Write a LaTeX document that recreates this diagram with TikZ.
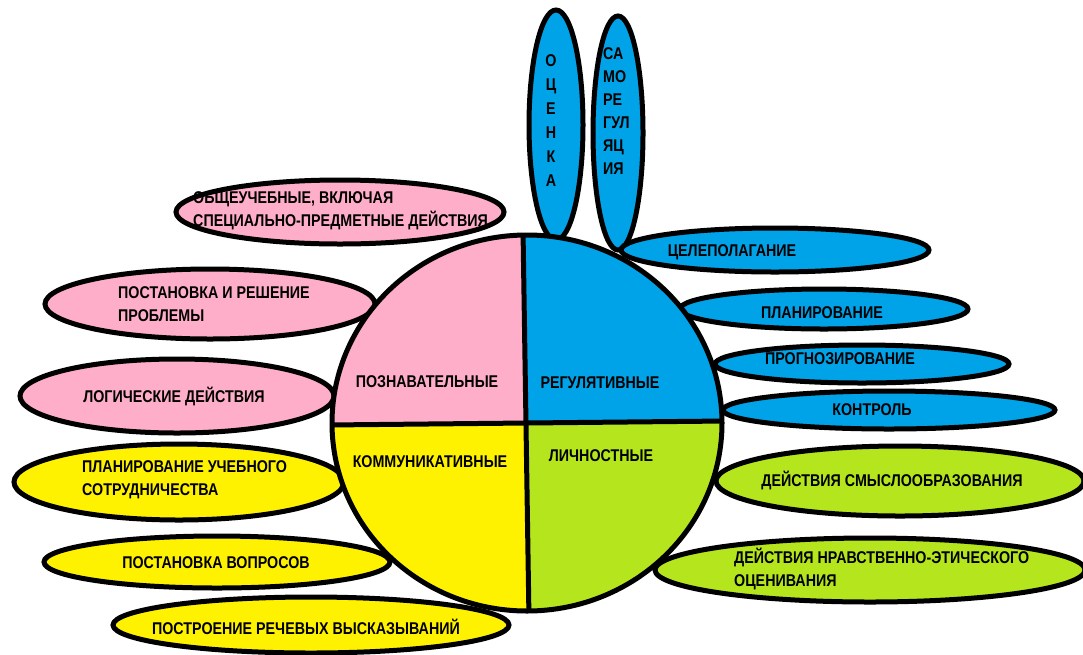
\documentclass[tikz,border=0pt]{standalone}
\usepackage{fontspec}
\setmainfont{Liberation Sans}
\newfontfamily\lblfont[FakeStretch=0.84]{Liberation Sans Bold}
\usetikzlibrary{shapes.geometric}
\definecolor{cpink}{RGB}{255,174,201}
\definecolor{cblue}{RGB}{0,162,232}
\definecolor{cyel}{RGB}{255,242,0}
\definecolor{cgreen}{RGB}{181,230,29}
\tikzset{
  oval/.style={draw=black, line width=5pt},
  lbl/.style={font=\lblfont\fontsize{17}{23}\selectfont, inner sep=0pt, text=black},
  lbll/.style={lbl, align=left, anchor=west},
}
\begin{document}
\begin{tikzpicture}[x=1pt,y=-1pt]
\useasboundingbox (0,0) rectangle (1083,654);
% top vertical ellipses
\draw[oval, fill=cblue] (556,125) ellipse (27 and 115);
\draw[oval, fill=cblue] (618,133) ellipse (25 and 117);
% left ellipses
\draw[oval, fill=cpink] (340,212) ellipse (164 and 32);
\draw[oval, fill=cpink] (210,304) ellipse (165 and 35);
\draw[oval, fill=cpink] (177,396) ellipse (157 and 37);
\draw[oval, fill=cyel] (179,482) ellipse (165 and 38);
\draw[oval, fill=cyel] (217,562) ellipse (173 and 26);
\draw[oval, fill=cyel] (311,625) ellipse (198 and 28);
% right ellipses
\draw[oval, fill=cblue] (775,250) ellipse (154 and 22);
\draw[oval, fill=cblue] (824,309) ellipse (144 and 20);
\draw[oval, fill=cblue] (862,364) ellipse (147 and 19);
\draw[oval, fill=cblue] (889,410) ellipse (166 and 19);
\draw[oval, fill=cgreen] (900,481) ellipse (184 and 35);
\draw[oval, fill=cgreen] (870,570) ellipse (215 and 32);
% main circle
\begin{scope}
  \clip (527,423) ellipse (195 and 188);
  \fill[cpink] (300,200) rectangle (524,424);
  \fill[cblue] (524,200) rectangle (760,422);
  \fill[cyel] (300,424) rectangle (528,640);
  \fill[cgreen] (526,422) rectangle (760,640);
  \draw[line width=5pt] (523,230) -- (529,620);
  \draw[line width=5pt] (328,425) -- (726,421);
\end{scope}
\draw[oval] (527,423) ellipse (195 and 188);
% circle labels
\node[lbl] (poz) at (427,382) {ПОЗНАВАТЕЛЬНЫЕ};
\node[lbl] (reg) at (600,383) {РЕГУЛЯТИВНЫЕ};
\node[lbl] (kom) at (430,462) {КОММУНИКАТИВНЫЕ};
\node[lbl] (lich) at (601,456) {ЛИЧНОСТНЫЕ};
% left labels
\node[lbll] (t1) at (193,211) {ОБЩЕУЧЕБНЫЕ, ВКЛЮЧАЯ\\СПЕЦИАЛЬНО-ПРЕДМЕТНЫЕ ДЕЙСТВИЯ};
\node[lbll] (t2) at (118,304) {ПОСТАНОВКА И РЕШЕНИЕ\\ПРОБЛЕМЫ};
\node[lbl] (t3) at (174,396) {ЛОГИЧЕСКИЕ ДЕЙСТВИЯ};
\node[lbll] (t4) at (82,480) {ПЛАНИРОВАНИЕ УЧЕБНОГО\\СОТРУДНИЧЕСТВА};
\node[lbl] (t5) at (216,563) {ПОСТАНОВКА ВОПРОСОВ};
\node[lbl] (t6) at (306,627) {ПОСТРОЕНИЕ РЕЧЕВЫХ ВЫСКАЗЫВАНИЙ};
% right labels
\node[lbl] (r1) at (732,252) {ЦЕЛЕПОЛАГАНИЕ};
\node[lbl] (r2) at (822,313) {ПЛАНИРОВАНИЕ};
\node[lbl] (r3) at (840,359) {ПРОГНОЗИРОВАНИЕ};
\node[lbl] (r4) at (872,410) {КОНТРОЛЬ};
\node[lbl] (r5) at (892,480) {ДЕЙСТВИЯ СМЫСЛООБРАЗОВАНИЯ};
\node[lbll] (r6) at (734,569) {ДЕЙСТВИЯ НРАВСТВЕННО-ЭТИЧЕСКОГО\\ОЦЕНИВАНИЯ};
% vertical labels
\node[lbl, align=center, font=\lblfont\fontsize{17}{24}\selectfont] (ots) at (551,121) {О\\Ц\\Е\\Н\\К\\А};
\node[lbll, font=\lblfont\fontsize{17}{23}\selectfont] (samo) at (603,111) {СА\\МО\\РЕ\\ГУЛ\\ЯЦ\\ИЯ};
\end{tikzpicture}
\end{document}
